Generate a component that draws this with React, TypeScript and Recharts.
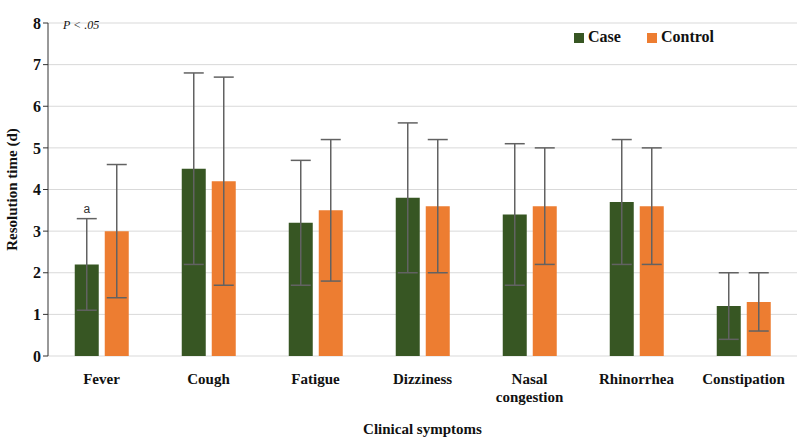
import React from "react";
import { BarChart, Bar, XAxis, YAxis, CartesianGrid, ErrorBar, Legend, LabelList } from "recharts";

// values (mean ± SD, days)
const symptoms = ["Fever", "Cough", "Fatigue", "Dizziness", "Nasal congestion", "Rhinorrhea", "Constipation"];
const caseMean = [2.2, 4.5, 3.2, 3.8, 3.4, 3.7, 1.2];
const caseSd = [1.1, 2.3, 1.5, 1.8, 1.7, 1.5, 0.8];
const controlMean = [3.0, 4.2, 3.5, 3.6, 3.6, 3.6, 1.3];
const controlSd = [1.6, 2.5, 1.7, 1.6, 1.4, 1.4, 0.7];
const yTicks = [0, 1, 2, 3, 4, 5, 6, 7, 8];
const boundaryTicks = [0, 1, 2, 3, 4, 5, 6, 7];
const caseMarks = ["a", "", "", "", "", "", ""];

const data = symptoms.map((name, i) => ({
  name,
  case: caseMean[i],
  caseSd: caseSd[i],
  control: controlMean[i],
  controlSd: controlSd[i],
  mark: caseMarks[i],
}));

const FONT = "'Liberation Serif', 'Times New Roman', serif";
const CASE_COLOR = "#375623";
const CONTROL_COLOR = "#ED7D31";
const boldText = { fontFamily: FONT, fontWeight: "bold" as const, fill: "#111" };

const SymptomTick = (props: any) => {
  const { x, y, payload } = props;
  const lines = String(payload.value).split(" ");
  return (
    <text x={x} y={y + 20} textAnchor="middle" style={{ ...boldText, fontSize: 15 }}>
      {lines.map((l, i) => (
        <tspan key={i} x={x} dy={i === 0 ? 0 : 18}>
          {l}
        </tspan>
      ))}
    </text>
  );
};

// draws the significance letter just above the top of the case error bar
const MarkLabel = (props: any) => {
  const { x, y, width, height, value, index } = props;
  if (!value) return null;
  const pxPerUnit = height / caseMean[index];
  const top = y - caseSd[index] * pxPerUnit;
  return (
    <text x={x + width / 2} y={top - 6} textAnchor="middle" style={{ fontFamily: "Arial, sans-serif", fontSize: 12, fill: "#333" }}>
      {value}
    </text>
  );
};

const App: React.FC = () => {
  return (
    <div style={{ position: "absolute", left: 0, top: 0, background: "#fff" }}>
      <BarChart
        width={800}
        height={440}
        data={data}
        margin={{ top: 5, right: 3, left: 0, bottom: 0 }}
        barCategoryGap="25%"
        barGap={6}
      >
        <CartesianGrid vertical={false} stroke="#d9d9d9" />
        <XAxis
          xAxisId="bounds"
          type="number"
          domain={[0, 7]}
          ticks={boundaryTicks}
          tickFormatter={() => ""}
          height={0}
          stroke="#333"
          tickSize={5}
        />
        <XAxis
          dataKey="name"
          tick={<SymptomTick />}
          axisLine={false}
          tickLine={false}
          height={84}
          interval={0}
          label={{
            value: "Clinical symptoms",
            position: "insideBottom",
            offset: 6,
            style: { ...boldText, fontSize: 15 },
          }}
        />
        <YAxis
          domain={[0, 8]}
          ticks={yTicks}
          width={48}
          stroke="#333"
          tickSize={5}
          tick={{ ...boldText, fontSize: 16 }}
          label={{
            value: "Resolution time (d)",
            angle: -90,
            position: "insideLeft",
            offset: 12,
            style: { ...boldText, textAnchor: "middle", fontSize: 15 },
          }}
        />
        <Legend
          verticalAlign="top"
          align="right"
          iconType="square"
          iconSize={10}
          wrapperStyle={{ top: 28, right: 60, width: "auto" }}
          formatter={(v: string) => (
            <span style={{ fontFamily: FONT, fontWeight: "bold", fontSize: 16, color: "#111", marginRight: 16 }}>{v}</span>
          )}
        />
        <Bar dataKey="case" name="Case" fill={CASE_COLOR} isAnimationActive={false}>
          <ErrorBar dataKey="caseSd" width={10} stroke="#626262" strokeWidth={1.5} direction="y" />
          <LabelList dataKey="mark" content={<MarkLabel />} />
        </Bar>
        <Bar dataKey="control" name="Control" fill={CONTROL_COLOR} isAnimationActive={false}>
          <ErrorBar dataKey="controlSd" width={10} stroke="#626262" strokeWidth={1.5} direction="y" />
        </Bar>
        <text x={63} y={29} style={{ fontFamily: FONT, fontStyle: "italic", fontSize: 12, fill: "#111" }}>
          P &lt; .05
        </text>
      </BarChart>
    </div>
  );
};

export default App;
